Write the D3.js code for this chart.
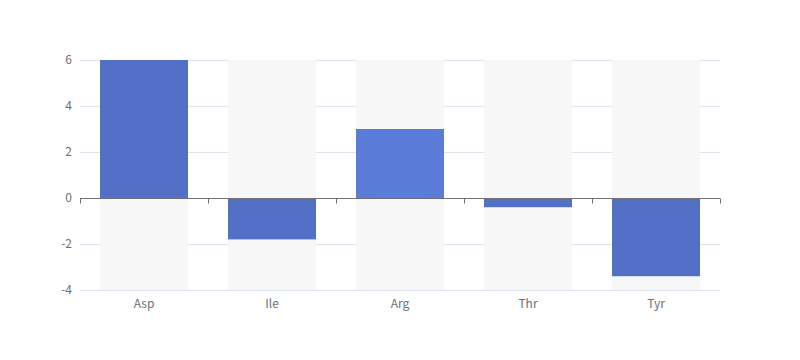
<!DOCTYPE html>
<html>
<head>
<meta charset="utf-8">
<script src="https://cdn.jsdelivr.net/npm/d3@7"></script>
<style>
  body { margin: 0; background: #fff; }
  text { font-family: "Noto Sans CJK SC", "Noto Sans", sans-serif; }
</style>
</head>
<body>
<div id="wrapper"></div>
<script>
// the data
const categories = ["Asp", "Ile", "Arg", "Thr", "Tyr"]
const values = [6, -1.8, 3, -0.4, -3.4]
const highlighted = "Arg"
const yTicks = [-4, -2, 0, 2, 4, 6]

function drawBarChart() {
  let dims = {
    width: 800,
    height: 360,
    margin: { top: 60, right: 80, bottom: 70, left: 80 },
  }
  dims.boundedWidth = dims.width - dims.margin.left - dims.margin.right
  dims.boundedHeight = dims.height - dims.margin.top - dims.margin.bottom

  const wrapper = d3.select("#wrapper")
    .append("svg")
      .attr("width", dims.width)
      .attr("height", dims.height)

  const bounds = wrapper.append("g")
    .attr("transform", `translate(${dims.margin.left},${dims.margin.top})`)

  // scales
  const xScale = d3.scaleBand()
    .domain(categories)
    .range([0, dims.boundedWidth])

  const yScale = d3.scaleLinear()
    .domain([-4, 6])
    .range([dims.boundedHeight, 0])

  const barWidth = xScale.bandwidth() * 0.6875
  const barOffset = (xScale.bandwidth() - barWidth) / 2

  // grid lines
  bounds.append("g")
    .selectAll("line")
    .data(yTicks.filter(d => d !== 0))
    .join("line")
      .attr("x1", 0)
      .attr("x2", dims.boundedWidth)
      .attr("y1", d => Math.round(yScale(d)) + 0.5)
      .attr("y2", d => Math.round(yScale(d)) + 0.5)
      .attr("stroke", "#E0E6F1")

  // background bars
  bounds.append("g")
    .selectAll("rect")
    .data(categories)
    .join("rect")
      .attr("x", d => xScale(d) + barOffset)
      .attr("y", yScale(6))
      .attr("width", barWidth)
      .attr("height", yScale(-4) - yScale(6))
      .attr("fill", "#f7f7f7")

  // bars
  bounds.append("g")
    .selectAll("rect")
    .data(categories.map((c, i) => ({ c, v: values[i] })))
    .join("rect")
      .attr("x", d => xScale(d.c) + barOffset)
      .attr("y", d => yScale(Math.max(0, d.v)))
      .attr("width", barWidth)
      .attr("height", d => Math.abs(yScale(d.v) - yScale(0)))
      .attr("fill", d => d.c === highlighted ? "#5b7bd8" : "#5470c6")

  // y axis labels
  bounds.append("g")
    .selectAll("text")
    .data(yTicks)
    .join("text")
      .attr("x", -8)
      .attr("y", d => yScale(d))
      .attr("dy", "0.35em")
      .attr("text-anchor", "end")
      .attr("font-size", 12)
      .attr("fill", "#6E7079")
      .text(d => d)

  // x axis along zero
  const xAxis = bounds.append("g")
    .attr("transform", `translate(0,${Math.round(yScale(0)) + 0.5})`)

  xAxis.append("line")
    .attr("x1", 0)
    .attr("x2", dims.boundedWidth)
    .attr("stroke", "#6E7079")

  const boundaries = categories.map(c => xScale(c)).concat([dims.boundedWidth])
  xAxis.selectAll(".tick")
    .data(boundaries)
    .join("line")
      .attr("class", "tick")
      .attr("x1", d => Math.round(d) + 0.5)
      .attr("x2", d => Math.round(d) + 0.5)
      .attr("y1", 0)
      .attr("y2", 5)
      .attr("stroke", "#6E7079")

  // category labels at the bottom
  bounds.append("g")
    .selectAll("text")
    .data(categories)
    .join("text")
      .attr("x", d => xScale(d) + xScale.bandwidth() / 2)
      .attr("y", dims.boundedHeight + 14)
      .attr("dy", "0.35em")
      .attr("text-anchor", "middle")
      .attr("font-size", 12)
      .attr("fill", "#6E7079")
      .text(d => d)
}

drawBarChart()
</script>
</body>
</html>
